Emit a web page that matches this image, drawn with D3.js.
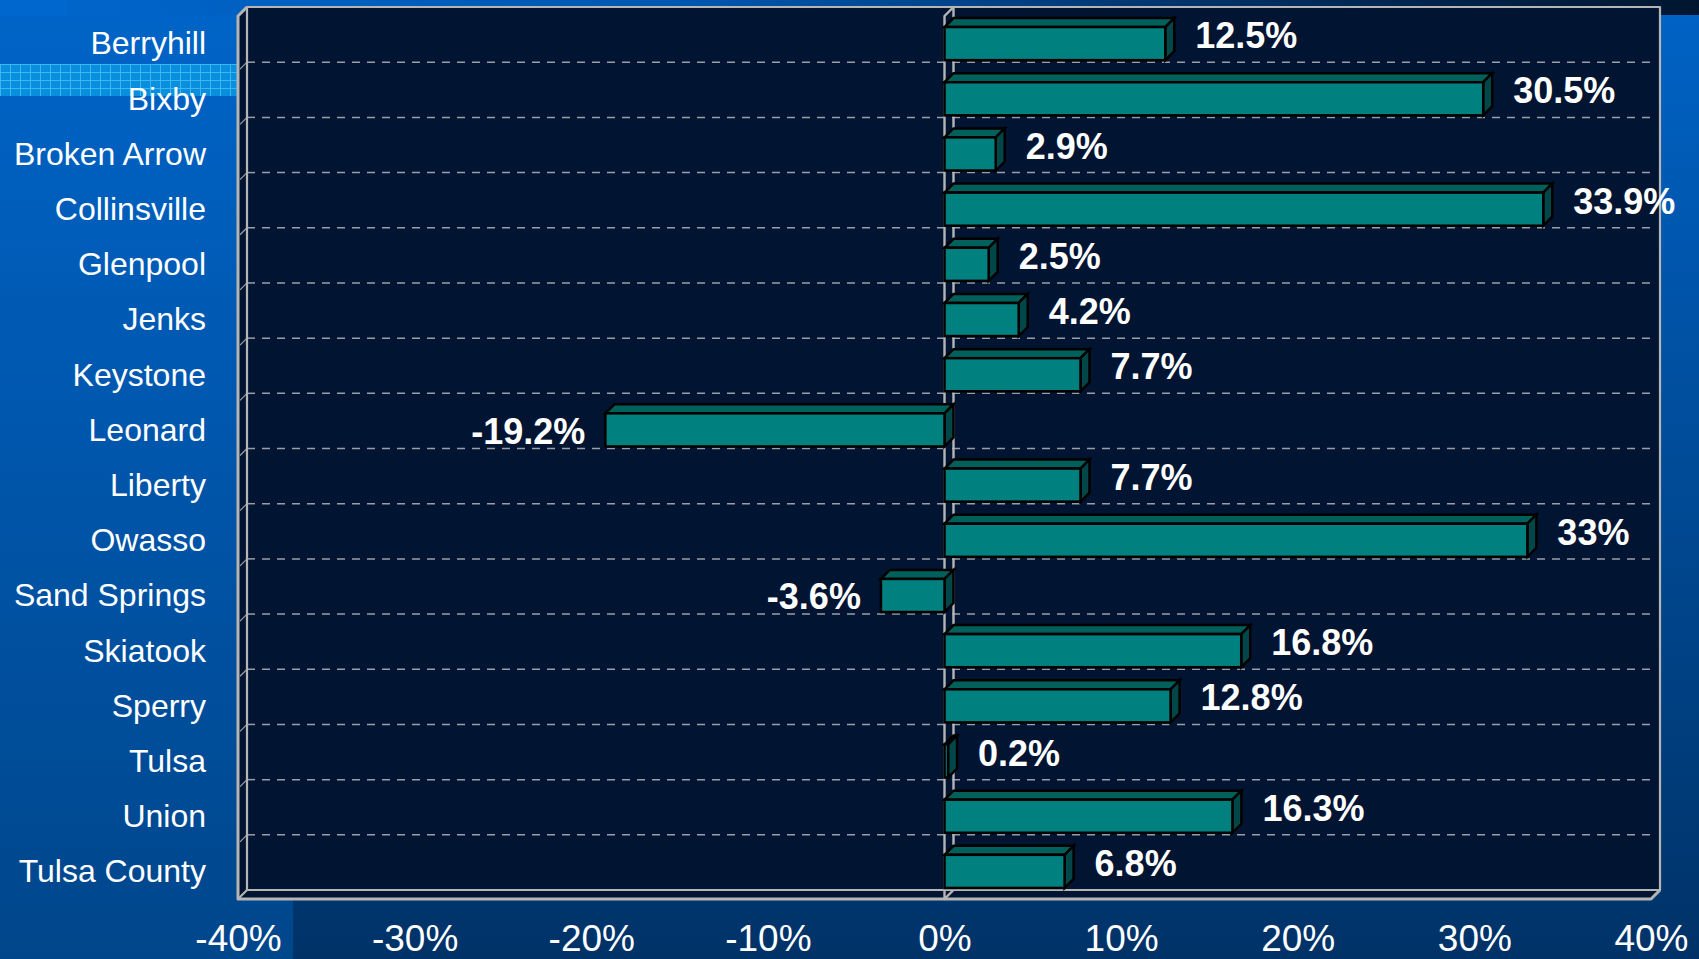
<!DOCTYPE html>
<html>
<head>
<meta charset="utf-8">
<script src="https://cdn.jsdelivr.net/npm/d3@7/dist/d3.min.js"></script>
<style>
  html, body { margin: 0; padding: 0; background: #003a74; }
  svg { display: block; }
  text { font-family: "Liberation Sans", Arial, sans-serif; }
</style>
</head>
<body>
<svg id="chart" width="1699" height="959"></svg>
<script>
// Population change by community
const categories = ["Berryhill", "Bixby", "Broken Arrow", "Collinsville", "Glenpool", "Jenks",
  "Keystone", "Leonard", "Liberty", "Owasso", "Sand Springs", "Skiatook", "Sperry", "Tulsa",
  "Union", "Tulsa County"];
const changePct = [12.5, 30.5, 2.9, 33.9, 2.5, 4.2, 7.7, -19.2, 7.7, 33, -3.6, 16.8, 12.8, 0.2, 16.3, 6.8];
const tickValues = [-40, -30, -20, -10, 0, 10, 20, 30, 40];
const tickLabels = ["-40%", "-30%", "-20%", "-10%", "0%", "10%", "20%", "30%", "40%"];

const W = 1699, H = 959;
const depth = 9;                       // 3D offset (right and up)
const front = { left: 238, right: 1651, top: 16, bottom: 899 };

const svg = d3.select("#chart");
const defs = svg.append("defs");

// ---- slide background ----
const gBase = defs.append("linearGradient").attr("id", "bgBase").attr("x1", 0).attr("y1", 0).attr("x2", 0).attr("y2", 1);
gBase.append("stop").attr("offset", 0).attr("stop-color", "#0063c6");
gBase.append("stop").attr("offset", 1).attr("stop-color", "#003267");

const gLeft = defs.append("linearGradient").attr("id", "bgLeft").attr("x1", 0).attr("y1", 0).attr("x2", 0).attr("y2", 1);
gLeft.append("stop").attr("offset", 0).attr("stop-color", "#0064c8");
gLeft.append("stop").attr("offset", 1).attr("stop-color", "#00468b");

const gTop = defs.append("linearGradient").attr("id", "bgTop").attr("x1", 0).attr("y1", 0).attr("x2", 1).attr("y2", 0);
gTop.append("stop").attr("offset", 0).attr("stop-color", "#0066cc");
gTop.append("stop").attr("offset", 0.4).attr("stop-color", "#0057b0");
gTop.append("stop").attr("offset", 0.78).attr("stop-color", "#002a58");
gTop.append("stop").attr("offset", 1).attr("stop-color", "#001630");

const grid = defs.append("pattern").attr("id", "hiGrid").attr("patternUnits", "userSpaceOnUse")
  .attr("width", 10).attr("height", 8);
grid.append("rect").attr("width", 10).attr("height", 8).attr("fill", "#0a8fdf");
grid.append("path").attr("d", "M0,0.5H10M0.5,0V8").attr("stroke", "#3cb6f2").attr("stroke-width", 1);

svg.append("rect").attr("width", W).attr("height", H).attr("fill", "url(#bgBase)");
svg.append("rect").attr("width", 293).attr("height", H).attr("fill", "url(#bgLeft)");
svg.append("rect").attr("width", W).attr("height", 15).attr("fill", "url(#bgTop)");
svg.append("rect").attr("width", 68).attr("height", 16).attr("fill", "#0067cf");
svg.append("rect").attr("x", 0).attr("y", 64).attr("width", 238).attr("height", 32).attr("fill", "url(#hiGrid)");

// ---- scales ----
const x = d3.scaleLinear().domain([-40, 40]).range([front.left, front.right]);
const yFront = d3.scaleBand().domain(categories).range([front.top, front.bottom])
  .paddingInner(0.4).paddingOuter(0.2);
const yRow = d3.scaleBand().domain(categories).range([front.top - depth, front.bottom - depth]);

const frameCol = "#b5b5b5";
const wallCol = "#011532";

// ---- back wall, floor, side wall ----
const backL = front.left + depth, backR = front.right + depth;
const backT = front.top - depth, backB = front.bottom - depth;

svg.append("rect").attr("x", backL).attr("y", backT).attr("width", backR - backL).attr("height", backB - backT)
  .attr("fill", wallCol);
svg.append("path")
  .attr("d", `M${front.left},${front.top}L${backL},${backT}L${backL},${backB}L${backR},${backB}L${front.right},${front.bottom}L${front.left},${front.bottom}Z`)
  .attr("fill", wallCol);

// dashed gridlines between categories
const gridG = svg.append("g");
categories.slice(1).forEach(c => {
  const yy = yRow(c);
  gridG.append("line").attr("x1", backL).attr("x2", backR - 4).attr("y1", yy).attr("y2", yy)
    .attr("stroke", "#9a9ea6").attr("stroke-width", 1.5).attr("stroke-dasharray", "8,7");
  gridG.append("line").attr("x1", front.left + 2).attr("y1", yy + depth - 2).attr("x2", backL).attr("y2", yy)
    .attr("stroke", "#9a9ea6").attr("stroke-width", 1.2);
});

// frame outlines
const frame = svg.append("g").attr("fill", "none").attr("stroke", frameCol).attr("stroke-linejoin", "round");
frame.append("path").attr("stroke-width", 2.2)
  .attr("d", `M${backL},${backB}L${backL},${backT}L${backR},${backT}L${backR},${backB}L${backL},${backB}`);
frame.append("path").attr("stroke-width", 3)
  .attr("d", `M${backL},${backT}L${front.left},${front.top}L${front.left},${front.bottom}L${front.right},${front.bottom}L${backR},${backB}`);
frame.append("path").attr("stroke-width", 2.2)
  .attr("d", `M${front.left},${front.bottom}L${backL},${backB}`);

// zero wall
const x0 = x(0);
frame.append("path").attr("stroke-width", 2.4)
  .attr("d", `M${x0 + depth},${backB}L${x0 + depth},${backT}L${x0},${front.top}L${x0},${front.bottom}L${x0 + depth},${backB}`);

// ---- 3D bars ----
const bars = svg.append("g").attr("stroke", "#000").attr("stroke-width", 2.5).attr("stroke-linejoin", "miter");
categories.forEach((c, i) => {
  const v = changePct[i];
  const xa = x(Math.min(0, v)), xb = x(Math.max(0, v));
  const yt = yFront(c), yb = yt + yFront.bandwidth();
  const g = bars.append("g");
  g.append("path").attr("fill", "#00605c")
    .attr("d", `M${xa},${yt}L${xa + depth},${yt - depth}L${xb + depth},${yt - depth}L${xb},${yt}Z`);
  g.append("path").attr("fill", "#00474a")
    .attr("d", `M${xb},${yt}L${xb + depth},${yt - depth}L${xb + depth},${yb - depth}L${xb},${yb}Z`);
  g.append("rect").attr("fill", "#00807f")
    .attr("x", xa).attr("y", yt).attr("width", xb - xa).attr("height", yb - yt);
});

// ---- value labels (positive: beside the bar end; negative: left of the front face) ----
svg.append("g").selectAll("text").data(categories).join("text")
  .attr("x", (c, i) => changePct[i] >= 0 ? x(changePct[i]) + depth + 21 : x(changePct[i]) - 20)
  .attr("y", (c, i) => changePct[i] >= 0
    ? yRow(c) + yRow.bandwidth() / 2 + 1
    : yFront(c) + yFront.bandwidth() / 2 + 1)
  .attr("dy", "0.35em")
  .attr("text-anchor", (c, i) => changePct[i] >= 0 ? "start" : "end")
  .attr("fill", "#fff").attr("font-weight", "bold").attr("font-size", 36)
  .text((c, i) => `${changePct[i]}%`);

// ---- category axis ----
const yAxis = svg.append("g").attr("transform", "translate(206,0)")
  .call(d3.axisLeft(yFront).tickSize(0).tickPadding(0));
yAxis.select(".domain").remove();
yAxis.selectAll("text").attr("fill", "#fff").attr("font-size", 32)
  .attr("font-family", "'Liberation Sans', Arial, sans-serif").attr("dy", "0.34em");

// ---- value axis ----
const xAxis = svg.append("g").attr("transform", "translate(0,951)")
  .call(d3.axisBottom(x).tickValues(tickValues).tickFormat((d, i) => tickLabels[i]).tickSize(0));
xAxis.select(".domain").remove();
xAxis.selectAll("text").attr("y", 0).attr("dy", 0).attr("fill", "#fff").attr("font-size", 37)
  .attr("font-family", "'Liberation Sans', Arial, sans-serif");
</script>
</body>
</html>
